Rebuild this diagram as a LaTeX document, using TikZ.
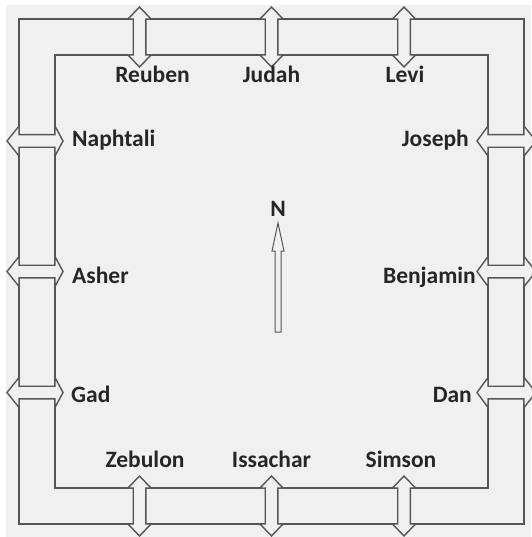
\documentclass[tikz,border=0pt]{standalone}
\usepackage{fontspec}
\setmainfont{Carlito}
\definecolor{bg}{HTML}{F0F0F0}
\definecolor{ln}{HTML}{555555}
\definecolor{tx}{HTML}{262626}
\tikzset{
  band/.style={draw=ln, line width=1.4pt},
  arrowshape/.style={draw=ln, fill=bg, line width=1.4pt, line join=miter},
  tribe/.style={inner sep=0pt, text=tx, font=\fontsize{23.5}{28}\selectfont\bfseries},
}
% vertical double arrow: centre x, tip 1, tip 2
\newcommand\vdarrow[3]{%
  \draw[arrowshape] (#1,#2) -- ({#1+11.5},{#2+12}) -- ({#1+6.3},{#2+12}) -- ({#1+6.3},{#3-12})
    -- ({#1+11.5},{#3-12}) -- (#1,#3) -- ({#1-11.5},{#3-12}) -- ({#1-6.3},{#3-12})
    -- ({#1-6.3},{#2+12}) -- ({#1-11.5},{#2+12}) -- cycle;}
% horizontal double arrow: centre y, tip 1, tip 2, head 1 length, head 2 length
\newcommand\hdarrow[5]{%
  \draw[arrowshape] (#2,#1) -- ({#2+#4},{#1-15}) -- ({#2+#4},{#1-6.3}) -- ({#3-#5},{#1-6.3})
    -- ({#3-#5},{#1-15}) -- (#3,#1) -- ({#3-#5},{#1+15}) -- ({#3-#5},{#1+6.3})
    -- ({#2+#4},{#1+6.3}) -- ({#2+#4},{#1+15}) -- cycle;}
\begin{document}
\begin{tikzpicture}[x=1pt, y=-1pt]
  \useasboundingbox (0,0) rectangle (531,537);
  \fill[white] (0,0) rectangle (531,537);
  \fill[bg] (6,5) rectangle (531,537);
  % corridor band
  \draw[band] (19,19) rectangle (524,524);
  \draw[band] (55,55) rectangle (488,488);
  % gates top
  \vdarrow{139.5}{7}{67}
  \vdarrow{271.5}{7}{67}
  \vdarrow{404}{7}{67}
  % gates bottom
  \vdarrow{139.5}{476}{536}
  \vdarrow{271.5}{476}{536}
  \vdarrow{404}{476}{536}
  % gates left
  \hdarrow{141}{7}{63}{12}{8}
  \hdarrow{271.5}{7}{63}{12}{8}
  \hdarrow{392.5}{7}{63}{12}{8}
  % gates right
  \hdarrow{141}{477}{536}{11}{12}
  \hdarrow{271.5}{477}{536}{11}{12}
  \hdarrow{392.5}{477}{536}{11}{12}
  % north arrow
  \draw[draw=ln, fill=bg, line width=1pt, line join=miter] (278,223) -- (284,251) -- (281,251) -- (281,332)
    -- (275,332) -- (275,251) -- (272,251) -- cycle;
  \node[tribe, anchor=base] (n) at (278,216) {N};
  % labels
  \node[tribe, anchor=base] (reuben) at (152.5,83) {Reuben};
  \node[tribe, anchor=base] (judah) at (271.5,83) {Judah};
  \node[tribe, anchor=base] (levi) at (405,83) {Levi};
  \node[tribe, anchor=base west] (naphtali) at (72,147) {Naphtali};
  \node[tribe, anchor=base west] (asher) at (72,283) {Asher};
  \node[tribe, anchor=base west] (gad) at (71,402) {Gad};
  \node[tribe, anchor=base east] (joseph) at (469,147) {Joseph};
  \node[tribe, anchor=base east] (benjamin) at (476,283) {Benjamin};
  \node[tribe, anchor=base east] (dan) at (472,402) {Dan};
  \node[tribe, anchor=base] (zebulon) at (145,467) {Zebulon};
  \node[tribe, anchor=base] (issachar) at (271.5,467) {Issachar};
  \node[tribe, anchor=base] (simson) at (401,467) {Simson};
\end{tikzpicture}
\end{document}
